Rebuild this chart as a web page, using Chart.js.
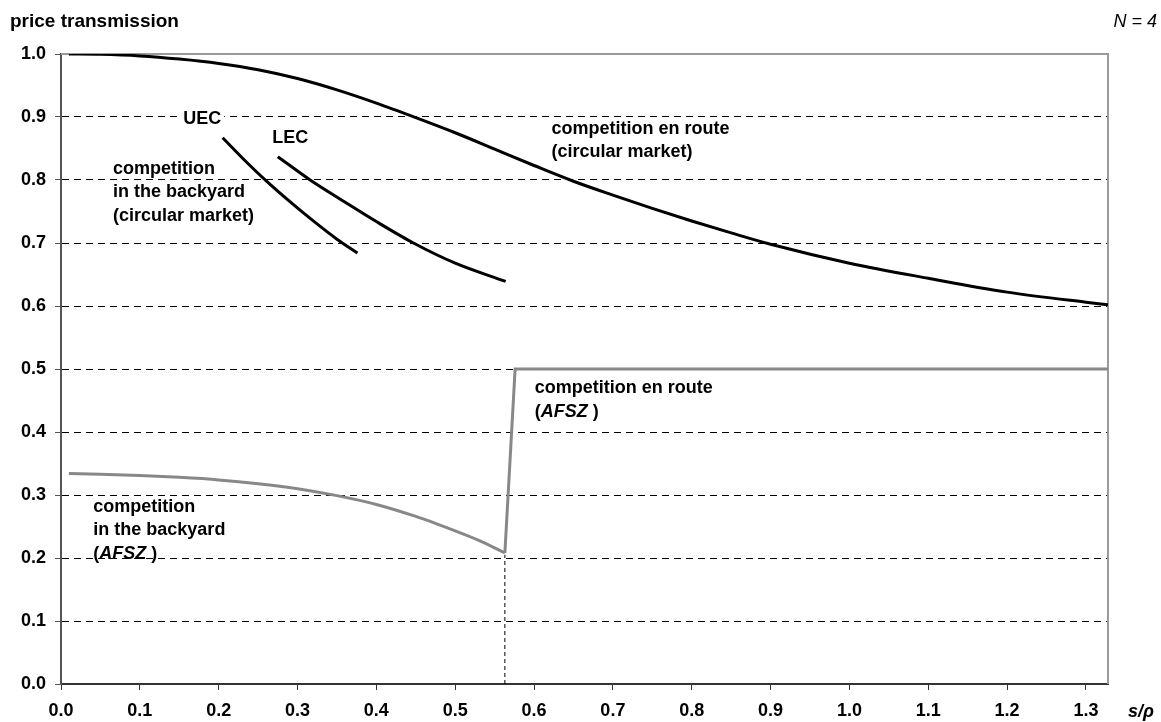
<!DOCTYPE html>
<html>
<head>
<meta charset="utf-8">
<script src="https://cdn.jsdelivr.net/npm/chart.js@4.4.1/dist/chart.umd.min.js"></script>
<style>
  html, body { margin: 0; padding: 0; background: #ffffff; }
  canvas { display: block; }
</style>
</head>
<body>
<canvas id="chart" width="1161" height="722"></canvas>
<script>
// Axis ticks
const xTicks = [0.0, 0.1, 0.2, 0.3, 0.4, 0.5, 0.6, 0.7, 0.8, 0.9, 1.0, 1.1, 1.2, 1.3];
const yTicks = [0.0, 0.1, 0.2, 0.3, 0.4, 0.5, 0.6, 0.7, 0.8, 0.9, 1.0];
const xMax = 1.328;

// Competition en route, circular market (black)
const routeCircX = [0.01, 0.05, 0.10, 0.15, 0.20, 0.25, 0.30, 0.35, 0.40, 0.45, 0.50, 0.55, 0.60, 0.65, 0.70, 0.75, 0.80, 0.85, 0.90, 1.00, 1.10, 1.20, 1.30, 1.328];
const routeCircY = [1.000, 0.9995, 0.997, 0.992, 0.985, 0.975, 0.961, 0.943, 0.922, 0.899, 0.875, 0.849, 0.823, 0.798, 0.776, 0.755, 0.735, 0.716, 0.698, 0.668, 0.644, 0.622, 0.606, 0.602];

// Competition in the backyard, circular market: upper (UEC) and lower (LEC) equilibrium curves
const uecX = [0.205, 0.23, 0.26, 0.29, 0.32, 0.35, 0.376];
const uecY = [0.867, 0.835, 0.799, 0.766, 0.735, 0.706, 0.684];
const lecX = [0.275, 0.316, 0.36, 0.40, 0.447, 0.50, 0.564];
const lecY = [0.837, 0.800, 0.765, 0.734, 0.700, 0.668, 0.639];

// AFSZ: competition in the backyard (grey), then competition en route (grey)
const backyardAfszX = [0.01, 0.05, 0.10, 0.15, 0.20, 0.25, 0.30, 0.35, 0.40, 0.45, 0.50, 0.53, 0.563];
const backyardAfszY = [0.334, 0.333, 0.331, 0.328, 0.324, 0.318, 0.310, 0.299, 0.285, 0.266, 0.243, 0.228, 0.208];
const routeAfszX = [0.563, 0.576, 1.328];
const routeAfszY = [0.208, 0.500, 0.500];

// Regime threshold (dotted drop line)
const thresholdX = [0.563, 0.563];
const thresholdY = [0.0, 0.205];

const FONT = 'Arial, "Liberation Sans", Helvetica, sans-serif';
const toPoints = (xs, ys) => xs.map((v, i) => ({ x: v, y: ys[i] }));

// Curve annotations, anchored in data units (left edge, centre of first line)
const annotations = [
  { x: 0.155, y: 0.896, bg: true, lines: [[{ t: 'UEC' }]] },
  { x: 0.268, y: 0.866, lines: [[{ t: 'LEC' }]] },
  { x: 0.066, y: 0.818, lines: [[{ t: 'competition' }], [{ t: 'in the backyard' }], [{ t: '(circular market)' }]] },
  { x: 0.622, y: 0.881, lines: [[{ t: 'competition en route' }], [{ t: '(circular market)' }]] },
  { x: 0.601, y: 0.469, lines: [[{ t: 'competition en route' }], [{ t: '(' }, { t: 'AFSZ', i: true }, { t: ' )' }]] },
  { x: 0.041, y: 0.281, lines: [[{ t: 'competition' }], [{ t: 'in the backyard' }], [{ t: '(' }, { t: 'AFSZ', i: true }, { t: ' )' }]] }
];
const LINE_H = 23.5;

const decorations = {
  id: 'decorations',
  beforeDatasetsDraw(chart) {
    const { ctx, chartArea: a } = chart;
    ctx.save();
    ctx.fillStyle = '#9a9a9a';
    ctx.fillRect(a.left, a.top - 1, a.right - a.left + 1, 2);      // top frame
    ctx.fillRect(a.right - 1, a.top - 1, 2, a.bottom - a.top + 1); // right frame
    ctx.restore();
  },
  afterDatasetsDraw(chart) {
    const { ctx, scales: { x, y } } = chart;
    ctx.save();
    ctx.textBaseline = 'middle';
    ctx.textAlign = 'left';
    for (const lab of annotations) {
      const px = x.getPixelForValue(lab.x);
      const py = y.getPixelForValue(lab.y);
      lab.lines.forEach((segs, li) => {
        const cy = py + li * LINE_H;
        if (lab.bg) {
          let w = 0;
          for (const s of segs) { ctx.font = (s.i ? 'italic ' : '') + 'bold 18px ' + FONT; w += ctx.measureText(s.t).width; }
          ctx.fillStyle = '#ffffff';
          ctx.fillRect(px - 3, cy - 9, w + 6, 18);
        }
        let cx = px;
        ctx.fillStyle = '#000000';
        for (const s of segs) {
          ctx.font = (s.i ? 'italic ' : '') + 'bold 18px ' + FONT;
          ctx.fillText(s.t, cx, cy);
          cx += ctx.measureText(s.t).width;
        }
      });
    }
    ctx.restore();
  },
  afterDraw(chart) {
    const { ctx, chartArea: a } = chart;
    ctx.save();
    ctx.fillStyle = '#000000';
    ctx.textBaseline = 'alphabetic';
    ctx.textAlign = 'left';
    ctx.font = 'bold 19px ' + FONT;
    ctx.fillText('price transmission', 10, 27);
    ctx.textAlign = 'right';
    ctx.font = 'italic 18px ' + FONT;
    ctx.fillText('N = 4', 1157, 27);
    ctx.textAlign = 'left';
    ctx.font = 'italic bold 18px ' + FONT;
    ctx.fillText('s/\u03C1', a.right + 20, 717);
    ctx.restore();
  }
};

const blackLine = { borderColor: '#000000', borderWidth: 3, pointRadius: 0, showLine: true, fill: false, cubicInterpolationMode: 'monotone', borderJoinStyle: 'round' };
const greyLine = { borderColor: '#888888', borderWidth: 3, pointRadius: 0, showLine: true, fill: false, borderJoinStyle: 'miter' };

new Chart(document.getElementById('chart'), {
  type: 'scatter',
  data: {
    datasets: [
      { ...blackLine, label: 'competition en route (circular market)', data: toPoints(routeCircX, routeCircY) },
      { ...blackLine, label: 'UEC', data: toPoints(uecX, uecY) },
      { ...blackLine, label: 'LEC', data: toPoints(lecX, lecY) },
      { ...greyLine, label: 'competition in the backyard (AFSZ)', cubicInterpolationMode: 'monotone', data: toPoints(backyardAfszX, backyardAfszY) },
      { ...greyLine, label: 'competition en route (AFSZ)', tension: 0, data: toPoints(routeAfszX, routeAfszY) },
      { label: 'threshold', data: toPoints(thresholdX, thresholdY), showLine: true, pointRadius: 0, borderColor: '#000000', borderWidth: 1, borderDash: [4, 3], fill: false }
    ]
  },
  options: {
    responsive: false,
    animation: false,
    devicePixelRatio: 1,
    layout: { padding: { left: 0, top: 54, right: 53, bottom: 0 } },
    plugins: { legend: { display: false }, tooltip: { enabled: false }, title: { display: false } },
    scales: {
      x: {
        type: 'linear',
        min: 0,
        max: xMax,
        afterFit: s => { s.height = 38; },
        afterBuildTicks: s => { s.ticks = xTicks.map(v => ({ value: v })); },
        ticks: { callback: v => Number(v).toFixed(1), color: '#000000', font: { family: FONT, size: 18, weight: 'bold' }, padding: 10, maxRotation: 0, autoSkip: false, includeBounds: false },
        grid: { drawOnChartArea: false, drawTicks: true, tickLength: 6, tickColor: '#333333', tickWidth: 1 },
        border: { display: true, color: '#333333', width: 2 }
      },
      y: {
        type: 'linear',
        min: 0,
        max: 1,
        afterFit: s => { s.width = 61; },
        afterBuildTicks: s => { s.ticks = yTicks.map(v => ({ value: v })); },
        ticks: { callback: v => Number(v).toFixed(1), color: '#000000', font: { family: FONT, size: 18, weight: 'bold' }, padding: 9, autoSkip: false },
        grid: {
          drawOnChartArea: true,
          drawTicks: true,
          tickLength: 6,
          tickColor: '#555555',
          tickWidth: 1,
          tickBorderDash: [],
          lineWidth: 1,
          color: c => (c.tick && (c.tick.value === 0 || c.tick.value === 1)) ? 'rgba(0,0,0,0)' : '#000000'
        },
        border: { display: true, color: '#555555', width: 2, dash: [7, 5] }
      }
    }
  },
  plugins: [decorations]
});
</script>
</body>
</html>
